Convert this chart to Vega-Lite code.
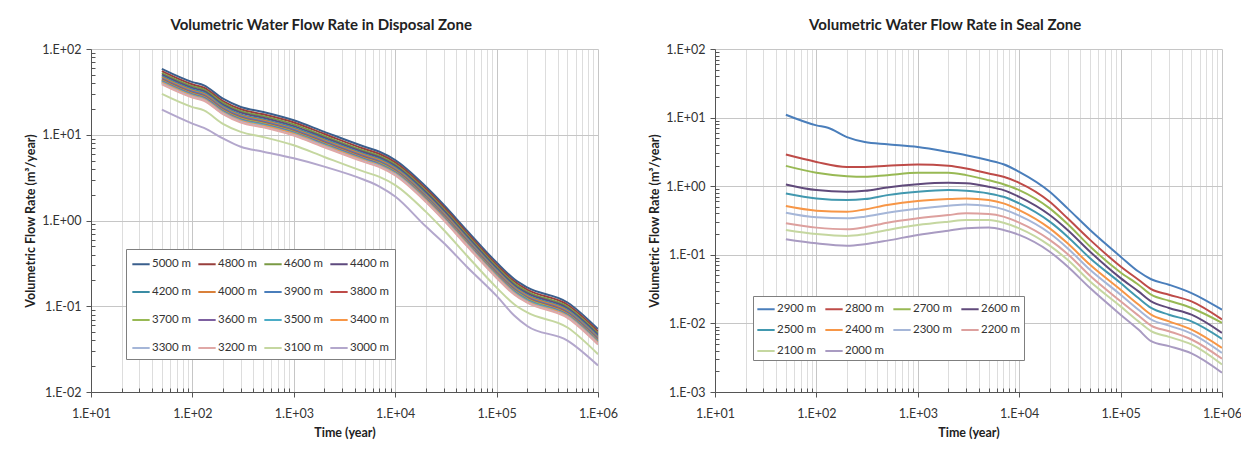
{
  "$schema": "https://vega.github.io/schema/vega-lite/v6.json",
  "background": "white",
  "padding": {"left": 24, "top": 18, "right": 5, "bottom": 5},
  "spacing": 117,
  "bounds": "flush",
  "config": {
    "font": "Lato",
    "view": {"stroke": null},
    "axis": {
      "labelFont": "Lato", "labelFontSize": 12.5, "labelColor": "#333",
      "titleFont": "Lato", "titleFontSize": 12.5, "titleFontWeight": "bold", "titleColor": "#222",
      "domainColor": "#555", "tickColor": "#555", "labelFlush": false, "labelOverlap": false,
      "grid": true, "gridWidth": 1
    },
    "title": {"font": "Lato", "fontSize": 15, "fontWeight": "bold", "color": "#222", "anchor": "middle", "frame": "bounds", "offset": 10},
    "legend": {"labelFont": "Lato", "labelFontSize": 11.5, "labelColor": "#333", "symbolType": "stroke", "symbolSize": 300, "symbolStrokeWidth": 2, "strokeColor": "#7f7f7f", "fillColor": "white", "labelOffset": 1, "gridAlign": "all", "columns": 4, "direction": "horizontal", "orient": "none"}
  },
  "resolve": {"scale": {"color": "independent", "x": "independent", "y": "independent"}, "legend": {"color": "independent"}},
  "datasets": {
    "left": [
      {"t":50,"s":"5000 m","v":58.6},{"t":100,"s":"5000 m","v":41.1},{"t":130,"s":"5000 m","v":37.6},{"t":200,"s":"5000 m","v":26.3},{"t":300,"s":"5000 m","v":21.1},{"t":500,"s":"5000 m","v":18.45},{"t":1000,"s":"5000 m","v":14.76},{"t":2000,"s":"5000 m","v":10.81},{"t":5000,"s":"5000 m","v":7.24},{"t":7000,"s":"5000 m","v":6.34},{"t":10000,"s":"5000 m","v":5.07},{"t":20000,"s":"5000 m","v":2.49},{"t":30000,"s":"5000 m","v":1.528},{"t":50000,"s":"5000 m","v":0.783},{"t":100000,"s":"5000 m","v":0.3236},{"t":150000,"s":"5000 m","v":0.206},{"t":200000,"s":"5000 m","v":0.166},{"t":500000,"s":"5000 m","v":0.1107},{"t":1000000,"s":"5000 m","v":0.0542},
      {"t":50,"s":"4800 m","v":55.1},{"t":100,"s":"4800 m","v":38.6},{"t":130,"s":"4800 m","v":35.3},{"t":200,"s":"4800 m","v":24.7},{"t":300,"s":"4800 m","v":19.8},{"t":500,"s":"4800 m","v":17.3},{"t":1000,"s":"4800 m","v":13.9},{"t":2000,"s":"4800 m","v":10.2},{"t":5000,"s":"4800 m","v":6.81},{"t":7000,"s":"4800 m","v":5.96},{"t":10000,"s":"4800 m","v":4.77},{"t":20000,"s":"4800 m","v":2.34},{"t":30000,"s":"4800 m","v":1.436},{"t":50000,"s":"4800 m","v":0.736},{"t":100000,"s":"4800 m","v":0.304},{"t":150000,"s":"4800 m","v":0.194},{"t":200000,"s":"4800 m","v":0.156},{"t":500000,"s":"4800 m","v":0.104},{"t":1000000,"s":"4800 m","v":0.0509},
      {"t":50,"s":"4600 m","v":52.3},{"t":100,"s":"4600 m","v":36.7},{"t":130,"s":"4600 m","v":33.5},{"t":200,"s":"4600 m","v":23.5},{"t":300,"s":"4600 m","v":18.8},{"t":500,"s":"4600 m","v":16.5},{"t":1000,"s":"4600 m","v":13.2},{"t":2000,"s":"4600 m","v":9.64},{"t":5000,"s":"4600 m","v":6.46},{"t":7000,"s":"4600 m","v":5.66},{"t":10000,"s":"4600 m","v":4.52},{"t":20000,"s":"4600 m","v":2.22},{"t":30000,"s":"4600 m","v":1.363},{"t":50000,"s":"4600 m","v":0.698},{"t":100000,"s":"4600 m","v":0.289},{"t":150000,"s":"4600 m","v":0.184},{"t":200000,"s":"4600 m","v":0.148},{"t":500000,"s":"4600 m","v":0.0987},{"t":1000000,"s":"4600 m","v":0.0483},
      {"t":50,"s":"4400 m","v":50.2},{"t":100,"s":"4400 m","v":35.2},{"t":130,"s":"4400 m","v":32.2},{"t":200,"s":"4400 m","v":22.5},{"t":300,"s":"4400 m","v":18.1},{"t":500,"s":"4400 m","v":15.8},{"t":1000,"s":"4400 m","v":12.6},{"t":2000,"s":"4400 m","v":9.25},{"t":5000,"s":"4400 m","v":6.2},{"t":7000,"s":"4400 m","v":5.43},{"t":10000,"s":"4400 m","v":4.34},{"t":20000,"s":"4400 m","v":2.13},{"t":30000,"s":"4400 m","v":1.308},{"t":50000,"s":"4400 m","v":0.67},{"t":100000,"s":"4400 m","v":0.277},{"t":150000,"s":"4400 m","v":0.176},{"t":200000,"s":"4400 m","v":0.142},{"t":500000,"s":"4400 m","v":0.0948},{"t":1000000,"s":"4400 m","v":0.0464},
      {"t":50,"s":"4200 m","v":48.1},{"t":100,"s":"4200 m","v":33.7},{"t":130,"s":"4200 m","v":30.9},{"t":200,"s":"4200 m","v":21.6},{"t":300,"s":"4200 m","v":17.3},{"t":500,"s":"4200 m","v":15.1},{"t":1000,"s":"4200 m","v":12.1},{"t":2000,"s":"4200 m","v":8.87},{"t":5000,"s":"4200 m","v":5.94},{"t":7000,"s":"4200 m","v":5.21},{"t":10000,"s":"4200 m","v":4.16},{"t":20000,"s":"4200 m","v":2.04},{"t":30000,"s":"4200 m","v":1.254},{"t":50000,"s":"4200 m","v":0.643},{"t":100000,"s":"4200 m","v":0.266},{"t":150000,"s":"4200 m","v":0.169},{"t":200000,"s":"4200 m","v":0.136},{"t":500000,"s":"4200 m","v":0.0909},{"t":1000000,"s":"4200 m","v":0.0445},
      {"t":50,"s":"4000 m","v":46.6},{"t":100,"s":"4000 m","v":32.7},{"t":130,"s":"4000 m","v":29.9},{"t":200,"s":"4000 m","v":20.9},{"t":300,"s":"4000 m","v":16.8},{"t":500,"s":"4000 m","v":14.7},{"t":1000,"s":"4000 m","v":11.7},{"t":2000,"s":"4000 m","v":8.6},{"t":5000,"s":"4000 m","v":5.76},{"t":7000,"s":"4000 m","v":5.05},{"t":10000,"s":"4000 m","v":4.04},{"t":20000,"s":"4000 m","v":1.98},{"t":30000,"s":"4000 m","v":1.216},{"t":50000,"s":"4000 m","v":0.623},{"t":100000,"s":"4000 m","v":0.258},{"t":150000,"s":"4000 m","v":0.164},{"t":200000,"s":"4000 m","v":0.132},{"t":500000,"s":"4000 m","v":0.0881},{"t":1000000,"s":"4000 m","v":0.0431},
      {"t":50,"s":"3900 m","v":45.2},{"t":100,"s":"3900 m","v":31.7},{"t":130,"s":"3900 m","v":29.0},{"t":200,"s":"3900 m","v":20.3},{"t":300,"s":"3900 m","v":16.3},{"t":500,"s":"3900 m","v":14.2},{"t":1000,"s":"3900 m","v":11.4},{"t":2000,"s":"3900 m","v":8.35},{"t":5000,"s":"3900 m","v":5.59},{"t":7000,"s":"3900 m","v":4.89},{"t":10000,"s":"3900 m","v":3.91},{"t":20000,"s":"3900 m","v":1.92},{"t":30000,"s":"3900 m","v":1.18},{"t":50000,"s":"3900 m","v":0.604},{"t":100000,"s":"3900 m","v":0.25},{"t":150000,"s":"3900 m","v":0.159},{"t":200000,"s":"3900 m","v":0.128},{"t":500000,"s":"3900 m","v":0.0855},{"t":1000000,"s":"3900 m","v":0.0418},
      {"t":50,"s":"3800 m","v":43.8},{"t":100,"s":"3800 m","v":30.7},{"t":130,"s":"3800 m","v":28.1},{"t":200,"s":"3800 m","v":19.7},{"t":300,"s":"3800 m","v":15.8},{"t":500,"s":"3800 m","v":13.8},{"t":1000,"s":"3800 m","v":11.0},{"t":2000,"s":"3800 m","v":8.09},{"t":5000,"s":"3800 m","v":5.42},{"t":7000,"s":"3800 m","v":4.74},{"t":10000,"s":"3800 m","v":3.79},{"t":20000,"s":"3800 m","v":1.86},{"t":30000,"s":"3800 m","v":1.143},{"t":50000,"s":"3800 m","v":0.586},{"t":100000,"s":"3800 m","v":0.242},{"t":150000,"s":"3800 m","v":0.154},{"t":200000,"s":"3800 m","v":0.124},{"t":500000,"s":"3800 m","v":0.0828},{"t":1000000,"s":"3800 m","v":0.0405},
      {"t":50,"s":"3700 m","v":43.0},{"t":100,"s":"3700 m","v":30.1},{"t":130,"s":"3700 m","v":27.6},{"t":200,"s":"3700 m","v":19.3},{"t":300,"s":"3700 m","v":15.5},{"t":500,"s":"3700 m","v":13.5},{"t":1000,"s":"3700 m","v":10.8},{"t":2000,"s":"3700 m","v":7.92},{"t":5000,"s":"3700 m","v":5.31},{"t":7000,"s":"3700 m","v":4.65},{"t":10000,"s":"3700 m","v":3.72},{"t":20000,"s":"3700 m","v":1.83},{"t":30000,"s":"3700 m","v":1.12},{"t":50000,"s":"3700 m","v":0.574},{"t":100000,"s":"3700 m","v":0.237},{"t":150000,"s":"3700 m","v":0.151},{"t":200000,"s":"3700 m","v":0.122},{"t":500000,"s":"3700 m","v":0.0811},{"t":1000000,"s":"3700 m","v":0.0397},
      {"t":50,"s":"3600 m","v":42.1},{"t":100,"s":"3600 m","v":29.5},{"t":130,"s":"3600 m","v":27.0},{"t":200,"s":"3600 m","v":18.9},{"t":300,"s":"3600 m","v":15.1},{"t":500,"s":"3600 m","v":13.2},{"t":1000,"s":"3600 m","v":10.6},{"t":2000,"s":"3600 m","v":7.76},{"t":5000,"s":"3600 m","v":5.2},{"t":7000,"s":"3600 m","v":4.55},{"t":10000,"s":"3600 m","v":3.64},{"t":20000,"s":"3600 m","v":1.79},{"t":30000,"s":"3600 m","v":1.097},{"t":50000,"s":"3600 m","v":0.562},{"t":100000,"s":"3600 m","v":0.232},{"t":150000,"s":"3600 m","v":0.148},{"t":200000,"s":"3600 m","v":0.119},{"t":500000,"s":"3600 m","v":0.0795},{"t":1000000,"s":"3600 m","v":0.0389},
      {"t":50,"s":"3500 m","v":41.2},{"t":100,"s":"3500 m","v":28.9},{"t":130,"s":"3500 m","v":26.4},{"t":200,"s":"3500 m","v":18.5},{"t":300,"s":"3500 m","v":14.8},{"t":500,"s":"3500 m","v":13.0},{"t":1000,"s":"3500 m","v":10.4},{"t":2000,"s":"3500 m","v":7.6},{"t":5000,"s":"3500 m","v":5.09},{"t":7000,"s":"3500 m","v":4.46},{"t":10000,"s":"3500 m","v":3.56},{"t":20000,"s":"3500 m","v":1.75},{"t":30000,"s":"3500 m","v":1.074},{"t":50000,"s":"3500 m","v":0.55},{"t":100000,"s":"3500 m","v":0.227},{"t":150000,"s":"3500 m","v":0.145},{"t":200000,"s":"3500 m","v":0.117},{"t":500000,"s":"3500 m","v":0.0778},{"t":1000000,"s":"3500 m","v":0.0381},
      {"t":50,"s":"3400 m","v":40.4},{"t":100,"s":"3400 m","v":28.3},{"t":130,"s":"3400 m","v":25.9},{"t":200,"s":"3400 m","v":18.1},{"t":300,"s":"3400 m","v":14.5},{"t":500,"s":"3400 m","v":12.7},{"t":1000,"s":"3400 m","v":10.2},{"t":2000,"s":"3400 m","v":7.45},{"t":5000,"s":"3400 m","v":4.99},{"t":7000,"s":"3400 m","v":4.37},{"t":10000,"s":"3400 m","v":3.49},{"t":20000,"s":"3400 m","v":1.72},{"t":30000,"s":"3400 m","v":1.053},{"t":50000,"s":"3400 m","v":0.539},{"t":100000,"s":"3400 m","v":0.223},{"t":150000,"s":"3400 m","v":0.142},{"t":200000,"s":"3400 m","v":0.114},{"t":500000,"s":"3400 m","v":0.0763},{"t":1000000,"s":"3400 m","v":0.0373},
      {"t":50,"s":"3300 m","v":39.5},{"t":100,"s":"3300 m","v":27.7},{"t":130,"s":"3300 m","v":25.3},{"t":200,"s":"3300 m","v":17.7},{"t":300,"s":"3300 m","v":14.2},{"t":500,"s":"3300 m","v":12.4},{"t":1000,"s":"3300 m","v":9.95},{"t":2000,"s":"3300 m","v":7.29},{"t":5000,"s":"3300 m","v":4.88},{"t":7000,"s":"3300 m","v":4.27},{"t":10000,"s":"3300 m","v":3.42},{"t":20000,"s":"3300 m","v":1.68},{"t":30000,"s":"3300 m","v":1.03},{"t":50000,"s":"3300 m","v":0.528},{"t":100000,"s":"3300 m","v":0.218},{"t":150000,"s":"3300 m","v":0.139},{"t":200000,"s":"3300 m","v":0.112},{"t":500000,"s":"3300 m","v":0.0746},{"t":1000000,"s":"3300 m","v":0.0365},
      {"t":50,"s":"3200 m","v":38.7},{"t":100,"s":"3200 m","v":27.2},{"t":130,"s":"3200 m","v":24.9},{"t":200,"s":"3200 m","v":17.4},{"t":300,"s":"3200 m","v":13.9},{"t":500,"s":"3200 m","v":12.2},{"t":1000,"s":"3200 m","v":9.76},{"t":2000,"s":"3200 m","v":7.15},{"t":5000,"s":"3200 m","v":4.79},{"t":7000,"s":"3200 m","v":4.19},{"t":10000,"s":"3200 m","v":3.35},{"t":20000,"s":"3200 m","v":1.65},{"t":30000,"s":"3200 m","v":1.01},{"t":50000,"s":"3200 m","v":0.518},{"t":100000,"s":"3200 m","v":0.214},{"t":150000,"s":"3200 m","v":0.136},{"t":200000,"s":"3200 m","v":0.11},{"t":500000,"s":"3200 m","v":0.0732},{"t":1000000,"s":"3200 m","v":0.0358},
      {"t":50,"s":"3100 m","v":29.9},{"t":100,"s":"3100 m","v":21.0},{"t":130,"s":"3100 m","v":19.2},{"t":200,"s":"3100 m","v":13.4},{"t":300,"s":"3100 m","v":10.8},{"t":500,"s":"3100 m","v":9.41},{"t":1000,"s":"3100 m","v":7.53},{"t":2000,"s":"3100 m","v":5.51},{"t":5000,"s":"3100 m","v":3.69},{"t":7000,"s":"3100 m","v":3.23},{"t":10000,"s":"3100 m","v":2.59},{"t":20000,"s":"3100 m","v":1.27},{"t":30000,"s":"3100 m","v":0.779},{"t":50000,"s":"3100 m","v":0.399},{"t":100000,"s":"3100 m","v":0.165},{"t":150000,"s":"3100 m","v":0.105},{"t":200000,"s":"3100 m","v":0.0847},{"t":500000,"s":"3100 m","v":0.0565},{"t":1000000,"s":"3100 m","v":0.0276},
      {"t":50,"s":"3000 m","v":19.6},{"t":100,"s":"3000 m","v":13.5},{"t":130,"s":"3000 m","v":12.0},{"t":200,"s":"3000 m","v":9.06},{"t":300,"s":"3000 m","v":7.24},{"t":500,"s":"3000 m","v":6.34},{"t":1000,"s":"3000 m","v":5.31},{"t":2000,"s":"3000 m","v":4.25},{"t":5000,"s":"3000 m","v":2.97},{"t":7000,"s":"3000 m","v":2.49},{"t":10000,"s":"3000 m","v":1.905},{"t":20000,"s":"3000 m","v":0.855},{"t":30000,"s":"3000 m","v":0.55},{"t":50000,"s":"3000 m","v":0.295},{"t":100000,"s":"3000 m","v":0.132},{"t":150000,"s":"3000 m","v":0.0776},{"t":200000,"s":"3000 m","v":0.0589},{"t":500000,"s":"3000 m","v":0.0398},{"t":1000000,"s":"3000 m","v":0.0204}
    ],
    "right": [
      {"t":50,"s":"2900 m","v":11.0},{"t":100,"s":"2900 m","v":7.7},{"t":130,"s":"2900 m","v":7.1},{"t":200,"s":"2900 m","v":5.2},{"t":300,"s":"2900 m","v":4.4},{"t":500,"s":"2900 m","v":4.08},{"t":1000,"s":"2900 m","v":3.73},{"t":2000,"s":"2900 m","v":3.16},{"t":3000,"s":"2900 m","v":2.83},{"t":5000,"s":"2900 m","v":2.39},{"t":7000,"s":"2900 m","v":2.09},{"t":10000,"s":"2900 m","v":1.62},{"t":20000,"s":"2900 m","v":0.83},{"t":30000,"s":"2900 m","v":0.475},{"t":50000,"s":"2900 m","v":0.23},{"t":100000,"s":"2900 m","v":0.094},{"t":150000,"s":"2900 m","v":0.057},{"t":200000,"s":"2900 m","v":0.044},{"t":300000,"s":"2900 m","v":0.0366},{"t":500000,"s":"2900 m","v":0.0277},{"t":1000000,"s":"2900 m","v":0.0158},
      {"t":50,"s":"2800 m","v":2.89},{"t":100,"s":"2800 m","v":2.26},{"t":200,"s":"2800 m","v":1.91},{"t":300,"s":"2800 m","v":1.91},{"t":500,"s":"2800 m","v":1.98},{"t":1000,"s":"2800 m","v":2.07},{"t":2000,"s":"2800 m","v":1.98},{"t":3000,"s":"2800 m","v":1.81},{"t":5000,"s":"2800 m","v":1.53},{"t":7000,"s":"2800 m","v":1.37},{"t":10000,"s":"2800 m","v":1.12},{"t":20000,"s":"2800 m","v":0.593},{"t":30000,"s":"2800 m","v":0.34},{"t":50000,"s":"2800 m","v":0.165},{"t":100000,"s":"2800 m","v":0.0676},{"t":150000,"s":"2800 m","v":0.0433},{"t":200000,"s":"2800 m","v":0.0316},{"t":300000,"s":"2800 m","v":0.0262},{"t":500000,"s":"2800 m","v":0.0209},{"t":1000000,"s":"2800 m","v":0.0114},
      {"t":50,"s":"2700 m","v":1.98},{"t":100,"s":"2700 m","v":1.57},{"t":200,"s":"2700 m","v":1.4},{"t":300,"s":"2700 m","v":1.37},{"t":500,"s":"2700 m","v":1.45},{"t":1000,"s":"2700 m","v":1.57},{"t":2000,"s":"2700 m","v":1.57},{"t":3000,"s":"2700 m","v":1.45},{"t":5000,"s":"2700 m","v":1.22},{"t":7000,"s":"2700 m","v":1.07},{"t":10000,"s":"2700 m","v":0.877},{"t":20000,"s":"2700 m","v":0.475},{"t":30000,"s":"2700 m","v":0.281},{"t":50000,"s":"2700 m","v":0.132},{"t":100000,"s":"2700 m","v":0.0553},{"t":150000,"s":"2700 m","v":0.0366},{"t":200000,"s":"2700 m","v":0.0262},{"t":300000,"s":"2700 m","v":0.0214},{"t":500000,"s":"2700 m","v":0.0168},{"t":1000000,"s":"2700 m","v":0.0102},
      {"t":50,"s":"2600 m","v":1.06},{"t":100,"s":"2600 m","v":0.877},{"t":200,"s":"2600 m","v":0.83},{"t":300,"s":"2600 m","v":0.857},{"t":500,"s":"2600 m","v":0.96},{"t":1000,"s":"2600 m","v":1.07},{"t":2000,"s":"2600 m","v":1.12},{"t":3000,"s":"2600 m","v":1.1},{"t":5000,"s":"2600 m","v":0.98},{"t":7000,"s":"2600 m","v":0.877},{"t":10000,"s":"2600 m","v":0.7},{"t":20000,"s":"2600 m","v":0.38},{"t":30000,"s":"2600 m","v":0.23},{"t":50000,"s":"2600 m","v":0.111},{"t":100000,"s":"2600 m","v":0.0457},{"t":150000,"s":"2600 m","v":0.0293},{"t":200000,"s":"2600 m","v":0.0209},{"t":300000,"s":"2600 m","v":0.0168},{"t":500000,"s":"2600 m","v":0.0134},{"t":1000000,"s":"2600 m","v":0.00728},
      {"t":50,"s":"2500 m","v":0.783},{"t":100,"s":"2500 m","v":0.664},{"t":200,"s":"2500 m","v":0.628},{"t":300,"s":"2500 m","v":0.649},{"t":500,"s":"2500 m","v":0.741},{"t":1000,"s":"2500 m","v":0.83},{"t":2000,"s":"2500 m","v":0.877},{"t":3000,"s":"2500 m","v":0.857},{"t":5000,"s":"2500 m","v":0.783},{"t":7000,"s":"2500 m","v":0.7},{"t":10000,"s":"2500 m","v":0.561},{"t":20000,"s":"2500 m","v":0.304},{"t":30000,"s":"2500 m","v":0.184},{"t":50000,"s":"2500 m","v":0.0891},{"t":100000,"s":"2500 m","v":0.0387},{"t":150000,"s":"2500 m","v":0.0234},{"t":200000,"s":"2500 m","v":0.0168},{"t":300000,"s":"2500 m","v":0.0134},{"t":500000,"s":"2500 m","v":0.0107},{"t":1000000,"s":"2500 m","v":0.00594},
      {"t":50,"s":"2400 m","v":0.514},{"t":100,"s":"2400 m","v":0.44},{"t":200,"s":"2400 m","v":0.425},{"t":300,"s":"2400 m","v":0.459},{"t":500,"s":"2400 m","v":0.531},{"t":1000,"s":"2400 m","v":0.607},{"t":2000,"s":"2400 m","v":0.649},{"t":3000,"s":"2400 m","v":0.664},{"t":5000,"s":"2400 m","v":0.628},{"t":7000,"s":"2400 m","v":0.561},{"t":10000,"s":"2400 m","v":0.449},{"t":20000,"s":"2400 m","v":0.243},{"t":30000,"s":"2400 m","v":0.147},{"t":50000,"s":"2400 m","v":0.0714},{"t":100000,"s":"2400 m","v":0.031},{"t":150000,"s":"2400 m","v":0.0188},{"t":200000,"s":"2400 m","v":0.0134},{"t":300000,"s":"2400 m","v":0.0107},{"t":500000,"s":"2400 m","v":0.00813},{"t":1000000,"s":"2400 m","v":0.0044},
      {"t":50,"s":"2300 m","v":0.411},{"t":100,"s":"2300 m","v":0.352},{"t":200,"s":"2300 m","v":0.34},{"t":300,"s":"2300 m","v":0.36},{"t":500,"s":"2300 m","v":0.411},{"t":1000,"s":"2300 m","v":0.47},{"t":2000,"s":"2300 m","v":0.519},{"t":3000,"s":"2300 m","v":0.543},{"t":5000,"s":"2300 m","v":0.514},{"t":7000,"s":"2300 m","v":0.459},{"t":10000,"s":"2300 m","v":0.372},{"t":20000,"s":"2300 m","v":0.206},{"t":30000,"s":"2300 m","v":0.125},{"t":50000,"s":"2300 m","v":0.0604},{"t":100000,"s":"2300 m","v":0.0262},{"t":150000,"s":"2300 m","v":0.0158},{"t":200000,"s":"2300 m","v":0.0114},{"t":300000,"s":"2300 m","v":0.00929},{"t":500000,"s":"2300 m","v":0.00711},{"t":1000000,"s":"2300 m","v":0.00372},
      {"t":50,"s":"2200 m","v":0.288},{"t":100,"s":"2200 m","v":0.249},{"t":200,"s":"2200 m","v":0.235},{"t":300,"s":"2200 m","v":0.252},{"t":500,"s":"2200 m","v":0.294},{"t":1000,"s":"2200 m","v":0.34},{"t":2000,"s":"2200 m","v":0.38},{"t":3000,"s":"2200 m","v":0.402},{"t":5000,"s":"2200 m","v":0.393},{"t":7000,"s":"2200 m","v":0.36},{"t":10000,"s":"2200 m","v":0.294},{"t":20000,"s":"2200 m","v":0.165},{"t":30000,"s":"2200 m","v":0.103},{"t":50000,"s":"2200 m","v":0.0494},{"t":100000,"s":"2200 m","v":0.021},{"t":150000,"s":"2200 m","v":0.013},{"t":200000,"s":"2200 m","v":0.00929},{"t":300000,"s":"2200 m","v":0.00769},{"t":500000,"s":"2200 m","v":0.00582},{"t":1000000,"s":"2200 m","v":0.00305},
      {"t":50,"s":"2100 m","v":0.23},{"t":100,"s":"2100 m","v":0.201},{"t":200,"s":"2100 m","v":0.188},{"t":300,"s":"2100 m","v":0.2},{"t":500,"s":"2100 m","v":0.23},{"t":1000,"s":"2100 m","v":0.272},{"t":2000,"s":"2100 m","v":0.304},{"t":3000,"s":"2100 m","v":0.321},{"t":5000,"s":"2100 m","v":0.321},{"t":7000,"s":"2100 m","v":0.294},{"t":10000,"s":"2100 m","v":0.243},{"t":20000,"s":"2100 m","v":0.136},{"t":30000,"s":"2100 m","v":0.0844},{"t":50000,"s":"2100 m","v":0.0408},{"t":100000,"s":"2100 m","v":0.0177},{"t":150000,"s":"2100 m","v":0.0107},{"t":200000,"s":"2100 m","v":0.00769},{"t":300000,"s":"2100 m","v":0.00637},{"t":500000,"s":"2100 m","v":0.00493},{"t":1000000,"s":"2100 m","v":0.00252},
      {"t":50,"s":"2000 m","v":0.169},{"t":100,"s":"2000 m","v":0.147},{"t":200,"s":"2000 m","v":0.136},{"t":300,"s":"2000 m","v":0.143},{"t":500,"s":"2000 m","v":0.161},{"t":1000,"s":"2000 m","v":0.195},{"t":2000,"s":"2000 m","v":0.225},{"t":3000,"s":"2000 m","v":0.243},{"t":5000,"s":"2000 m","v":0.249},{"t":7000,"s":"2000 m","v":0.23},{"t":10000,"s":"2000 m","v":0.195},{"t":20000,"s":"2000 m","v":0.111},{"t":30000,"s":"2000 m","v":0.0676},{"t":50000,"s":"2000 m","v":0.0327},{"t":100000,"s":"2000 m","v":0.0134},{"t":150000,"s":"2000 m","v":0.00813},{"t":200000,"s":"2000 m","v":0.00551},{"t":300000,"s":"2000 m","v":0.00466},{"t":500000,"s":"2000 m","v":0.00365},{"t":1000000,"s":"2000 m","v":0.00191}
    ]
  },
  "hconcat": [
    {
      "width": 507,
      "height": 343,
      "title": {"text": "Volumetric Water Flow Rate in Disposal Zone"},
      "data": {"name": "left"},
      "mark": {"type": "line", "strokeWidth": 2, "interpolate": "monotone", "clip": true},
      "encoding": {
        "x": {
          "field": "t", "type": "quantitative",
          "scale": {"type": "log", "domain": [10, 1000000], "nice": false},
          "axis": {
            "title": "Time (year)",
            "values": [10,20,30,40,50,60,70,80,90,100,200,300,400,500,600,700,800,900,1000,2000,3000,4000,5000,6000,7000,8000,9000,10000,20000,30000,40000,50000,60000,70000,80000,90000,100000,200000,300000,400000,500000,600000,700000,800000,900000,1000000],
            "labelExpr": "abs(log(datum.value)/LN10 - round(log(datum.value)/LN10)) < 0.001 ? '1.E' + (datum.value >= 1 ? '+' : '-') + (abs(round(log(datum.value)/LN10)) < 10 ? '0' : '') + abs(round(log(datum.value)/LN10)) : ''",
            "gridColor": {"condition": {"test": "abs(log(datum.value)/LN10 - round(log(datum.value)/LN10)) < 0.001", "value": "#c6c6c6"}, "value": "#dddddd"},
            "tickSize": {"condition": {"test": "abs(log(datum.value)/LN10 - round(log(datum.value)/LN10)) < 0.001", "value": 5}, "value": -4},
            "labelPadding": 10,
            "titlePadding": 7
          }
        },
        "y": {
          "field": "v", "type": "quantitative",
          "scale": {"type": "log", "domain": [0.01, 100], "nice": false},
          "axis": {
            "title": "Volumetric Flow  Rate (m³/year)",
            "values": [0.01,0.02,0.03,0.04,0.05,0.06,0.07,0.08,0.09,0.1,0.2,0.3,0.4,0.5,0.6,0.7,0.8,0.9,1,2,3,4,5,6,7,8,9,10,20,30,40,50,60,70,80,90,100],
            "labelExpr": "abs(log(datum.value)/LN10 - round(log(datum.value)/LN10)) < 0.001 ? '1.E' + (datum.value >= 1 ? '+' : '-') + (abs(round(log(datum.value)/LN10)) < 10 ? '0' : '') + abs(round(log(datum.value)/LN10)) : ''",
            "gridColor": "#c6c6c6",
            "gridOpacity": {"condition": {"test": "abs(log(datum.value)/LN10 - round(log(datum.value)/LN10)) < 0.001", "value": 1}, "value": 0},
            "tickSize": {"condition": {"test": "abs(log(datum.value)/LN10 - round(log(datum.value)/LN10)) < 0.001", "value": 5}, "value": -4},
            "labelPadding": 5,
            "titlePadding": 4
          }
        },
        "color": {
          "field": "s", "type": "nominal",
          "scale": {
            "domain": ["5000 m","4800 m","4600 m","4400 m","4200 m","4000 m","3900 m","3800 m","3700 m","3600 m","3500 m","3400 m","3300 m","3200 m","3100 m","3000 m"],
            "range": ["#3A5F8D","#983F3C","#7A9A44","#5E4A7E","#3A8CA4","#D9803A","#4A7EBB","#BE4B48","#98B954","#7D60A0","#4BACC6","#F79646","#A5B6D8","#E0A8A6","#C5D7A0","#B3A7CC"]
          },
          "legend": {"title": null, "legendX": 35, "legendY": 200, "padding": 5, "rowPadding": 12, "columnPadding": 2}
        }
      }
    },
    {
      "width": 507,
      "height": 343,
      "title": {"text": "Volumetric Water Flow Rate in Seal Zone"},
      "data": {"name": "right"},
      "mark": {"type": "line", "strokeWidth": 2, "interpolate": "monotone", "clip": true},
      "encoding": {
        "x": {
          "field": "t", "type": "quantitative",
          "scale": {"type": "log", "domain": [10, 1000000], "nice": false},
          "axis": {
            "title": "Time (year)",
            "values": [10,20,30,40,50,60,70,80,90,100,200,300,400,500,600,700,800,900,1000,2000,3000,4000,5000,6000,7000,8000,9000,10000,20000,30000,40000,50000,60000,70000,80000,90000,100000,200000,300000,400000,500000,600000,700000,800000,900000,1000000],
            "labelExpr": "abs(log(datum.value)/LN10 - round(log(datum.value)/LN10)) < 0.001 ? '1.E' + (datum.value >= 1 ? '+' : '-') + (abs(round(log(datum.value)/LN10)) < 10 ? '0' : '') + abs(round(log(datum.value)/LN10)) : ''",
            "gridColor": {"condition": {"test": "abs(log(datum.value)/LN10 - round(log(datum.value)/LN10)) < 0.001", "value": "#c6c6c6"}, "value": "#dddddd"},
            "tickSize": {"condition": {"test": "abs(log(datum.value)/LN10 - round(log(datum.value)/LN10)) < 0.001", "value": 5}, "value": -4},
            "labelPadding": 10,
            "titlePadding": 7
          }
        },
        "y": {
          "field": "v", "type": "quantitative",
          "scale": {"type": "log", "domain": [0.001, 100], "nice": false},
          "axis": {
            "title": "Volumetric Flow  Rate (m³/year)",
            "values": [0.001,0.002,0.003,0.004,0.005,0.006,0.007,0.008,0.009,0.01,0.02,0.03,0.04,0.05,0.06,0.07,0.08,0.09,0.1,0.2,0.3,0.4,0.5,0.6,0.7,0.8,0.9,1,2,3,4,5,6,7,8,9,10,20,30,40,50,60,70,80,90,100],
            "labelExpr": "abs(log(datum.value)/LN10 - round(log(datum.value)/LN10)) < 0.001 ? '1.E' + (datum.value >= 1 ? '+' : '-') + (abs(round(log(datum.value)/LN10)) < 10 ? '0' : '') + abs(round(log(datum.value)/LN10)) : ''",
            "gridColor": "#c6c6c6",
            "gridOpacity": {"condition": {"test": "abs(log(datum.value)/LN10 - round(log(datum.value)/LN10)) < 0.001", "value": 1}, "value": 0},
            "tickSize": {"condition": {"test": "abs(log(datum.value)/LN10 - round(log(datum.value)/LN10)) < 0.001", "value": 5}, "value": -4},
            "labelPadding": 5,
            "titlePadding": 4
          }
        },
        "color": {
          "field": "s", "type": "nominal",
          "scale": {
            "domain": ["2900 m","2800 m","2700 m","2600 m","2500 m","2400 m","2300 m","2200 m","2100 m","2000 m"],
            "range": ["#4A7EBB","#BE4B48","#98B954","#604A7B","#4198AF","#F79646","#A5B6D8","#DDA09E","#C5D7A0","#A99BC2"]
          },
          "legend": {"title": null, "legendX": 38, "legendY": 247, "padding": 3, "rowPadding": 5, "columnPadding": 4}
        }
      }
    }
  ]
}
